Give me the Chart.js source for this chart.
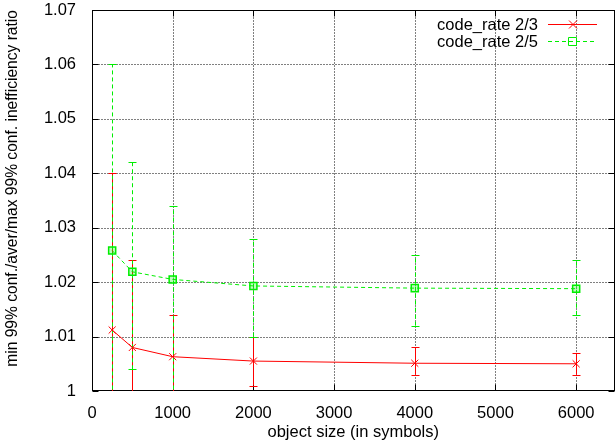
<!DOCTYPE html>
<html>
<head>
<meta charset="utf-8">
<script src="https://cdn.jsdelivr.net/npm/chart.js@4.4.0/dist/chart.umd.min.js"></script>
<style>
  html, body { margin: 0; padding: 0; background: #fff; overflow: hidden; }
  #wrap { width: 615px; height: 447px; overflow: hidden; }
</style>
</head>
<body>
<div id="wrap"><canvas id="chart" width="621" height="447"></canvas></div>
<script>
// object sizes
var sizes = [250, 500, 1000, 2000, 4000, 6000];

// code_rate 2/3 : mean, min 99% conf, max 99% conf
var rate23 = [1.0112, 1.0080, 1.0063, 1.0055, 1.0051, 1.0050];
var rate23Lo = [0.99, 0.99, 0.99, 1.001, 1.003, 1.003];
var rate23Hi = [1.040, 1.024, 1.014, 1.010, 1.008, 1.007];

// code_rate 2/5
var rate25 = [1.0258, 1.0219, 1.0205, 1.0193, 1.0189, 1.0188];
var rate25Lo = [0.99, 1.004, 0.999, 1.010, 1.012, 1.014];
var rate25Hi = [1.060, 1.042, 1.034, 1.028, 1.025, 1.024];

var xTicks = [0, 1000, 2000, 3000, 4000, 5000, 6000];
var yTicks = [1, 1.01, 1.02, 1.03, 1.04, 1.05, 1.06, 1.07];

var RED = '#ff0000';
var GREEN = '#00ee00';
var FONT = 'Liberation Sans, Arial, sans-serif';

function pts(ys) {
    return sizes.map(function (x, i) { return { x: x, y: ys[i] }; });
}

// dotted grid, error bars, inner ticks and the gnuplot style key
var gnuplotBits = {
    id: 'gnuplotBits',
    beforeDatasetsDraw: function (chart) {
        var ctx = chart.ctx, xs = chart.scales.x, ys = chart.scales.y, a = chart.chartArea;
        var L = Math.round(a.left) + 0.5, R = Math.round(a.right) - 0.5;
        var T = Math.round(a.top) + 0.5, B = Math.round(a.bottom) - 0.5;

        // dotted grid
        ctx.save();
        ctx.strokeStyle = '#000';
        ctx.lineWidth = 1;
        ctx.setLineDash([1, 2]);
        ctx.beginPath();
        xTicks.forEach(function (v) {
            if (v === 0) return;
            var px = Math.round(xs.getPixelForValue(v)) + 0.5;
            ctx.moveTo(px, B); ctx.lineTo(px, T);
        });
        yTicks.forEach(function (v) {
            if (v === 1 || v === 1.07) return;
            var py = Math.round(ys.getPixelForValue(v)) + 0.5;
            ctx.moveTo(L, py); ctx.lineTo(R, py);
        });
        ctx.stroke();
        ctx.restore();

        // border and inward ticks on all four sides
        ctx.save();
        ctx.strokeStyle = '#000';
        ctx.lineWidth = 1;
        ctx.strokeRect(L, T, R - L, B - T);
        ctx.beginPath();
        xTicks.forEach(function (v) {
            var px = Math.round(xs.getPixelForValue(v)) + 0.5;
            ctx.moveTo(px, B); ctx.lineTo(px, B - 6);
            ctx.moveTo(px, T); ctx.lineTo(px, T + 6);
        });
        yTicks.forEach(function (v) {
            var py = Math.round(ys.getPixelForValue(v)) + 0.5;
            ctx.moveTo(L, py); ctx.lineTo(L + 6, py);
            ctx.moveTo(R, py); ctx.lineTo(R - 6, py);
        });
        ctx.stroke();
        ctx.restore();

        // error bars
        ctx.save();
        ctx.beginPath();
        ctx.rect(a.left, a.top, a.right - a.left, a.bottom - a.top);
        ctx.clip();
        chart.data.datasets.forEach(function (ds) {
            ctx.strokeStyle = ds.borderColor;
            ctx.lineWidth = 1;
            ds.data.forEach(function (p, i) {
                var px = Math.round(xs.getPixelForValue(p.x)) + 0.5;
                var lo = ys.getPixelForValue(ds.lo[i]);
                var hi = ys.getPixelForValue(ds.hi[i]);
                ctx.setLineDash(ds.borderDash || []);
                ctx.beginPath();
                ctx.moveTo(px, lo);
                ctx.lineTo(px, hi);
                ctx.stroke();
                ctx.setLineDash([]);
                ctx.beginPath();
                ctx.moveTo(px - 4, Math.round(lo) + 0.5);
                ctx.lineTo(px + 4, Math.round(lo) + 0.5);
                ctx.moveTo(px - 4, Math.round(hi) + 0.5);
                ctx.lineTo(px + 4, Math.round(hi) + 0.5);
                ctx.stroke();
            });
        });
        ctx.restore();
    },
    afterDatasetsDraw: function (chart) {
        var ctx = chart.ctx, a = chart.chartArea;
        ctx.save();
        ctx.font = '16.5px ' + FONT;
        ctx.textAlign = 'right';
        ctx.textBaseline = 'middle';
        chart.data.datasets.forEach(function (ds, i) {
            var y = Math.round(a.top + 14 + i * 17);
            ctx.fillStyle = '#000';
            ctx.fillText(ds.label, 538, y + 1);
            ctx.strokeStyle = ds.borderColor;
            ctx.lineWidth = 1;
            ctx.setLineDash(ds.borderDash || []);
            ctx.beginPath();
            ctx.moveTo(548, y + 0.5);
            ctx.lineTo(597, y + 0.5);
            ctx.stroke();
            ctx.setLineDash([]);
            ctx.beginPath();
            if (ds.pointStyle === 'rect') {
                ctx.rect(568.5, y - 3.5, 8, 8);
            } else {
                ctx.moveTo(569, y - 3.5); ctx.lineTo(577, y + 4.5);
                ctx.moveTo(577, y - 3.5); ctx.lineTo(569, y + 4.5);
            }
            ctx.stroke();
        });
        ctx.restore();
    }
};

new Chart(document.getElementById('chart'), {
    type: 'scatter',
    data: {
        datasets: [{
            label: 'code_rate 2/3',
            data: pts(rate23),
            lo: rate23Lo,
            hi: rate23Hi,
            showLine: true,
            borderColor: RED,
            backgroundColor: RED,
            borderWidth: 1,
            pointStyle: 'crossRot',
            pointRadius: 5,
            pointBorderWidth: 1
        }, {
            label: 'code_rate 2/5',
            data: pts(rate25),
            lo: rate25Lo,
            hi: rate25Hi,
            showLine: true,
            borderColor: GREEN,
            backgroundColor: 'rgba(0,238,0,0.25)',
            borderWidth: 1,
            borderDash: [4, 3],
            pointStyle: 'rect',
            pointRadius: 5,
            pointBorderWidth: 1.5
        }]
    },
    options: {
        responsive: false,
        animation: false,
        layout: { padding: { top: 10, right: 0, left: 0, bottom: 0 } },
        plugins: { legend: { display: false }, tooltip: { enabled: false } },
        scales: {
            x: {
                type: 'linear',
                min: 0,
                max: 6475,
                afterBuildTicks: function (s) { s.ticks = xTicks.map(function (v) { return { value: v }; }); },
                afterFit: function (s) { s.height = 56; s.paddingLeft = 0; s.paddingRight = 0; },
                ticks: {
                    color: '#000', font: { family: FONT, size: 16.5 }, padding: 5, maxRotation: 0,
                    callback: function (v) { return String(v); }
                },
                grid: { display: false },
                border: { display: false },
                title: { display: true, text: 'object size (in symbols)', color: '#000', font: { family: FONT, size: 16.5 }, padding: { top: 2, bottom: 5 } }
            },
            y: {
                min: 1,
                max: 1.07,
                afterBuildTicks: function (s) { s.ticks = yTicks.map(function (v) { return { value: v }; }); },
                afterFit: function (s) { s.width = 92; s.paddingTop = 0; s.paddingBottom = 0; },
                ticks: {
                    color: '#000', font: { family: FONT, size: 16.5 }, padding: 8,
                    callback: function (v) { return v === 1 ? '1' : v.toFixed(2); }
                },
                grid: { display: false },
                border: { display: false },
                title: { display: true, align: 'end', text: 'min 99% conf./aver/max 99% conf. inefficiency ratio', color: '#000', font: { family: FONT, size: 15.6 }, padding: { top: 3, bottom: 2 } }
            }
        }
    },
    plugins: [gnuplotBits]
});
</script>
</body>
</html>
